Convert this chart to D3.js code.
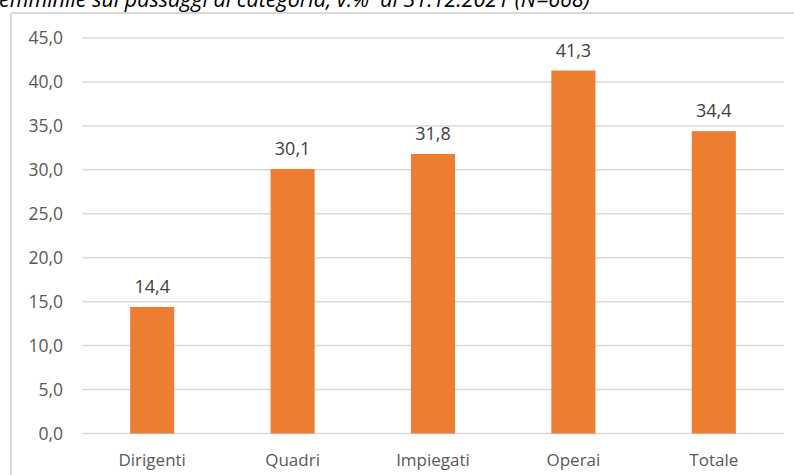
<!DOCTYPE html>
<html>
<head>
<meta charset="utf-8">
<script src="https://cdn.jsdelivr.net/npm/d3@7"></script>
<style>
  body { margin: 0; background: #fff; }
  svg { display: block; }
</style>
</head>
<body>
<div class="chart"></div>
<script>
/// Data
var categories = ["Dirigenti", "Quadri", "Impiegati", "Operai", "Totale"];
var values = [14.4, 30.1, 31.8, 41.3, 34.4];
var yTicks = [0, 5, 10, 15, 20, 25, 30, 35, 40, 45];
var titleText = "emminile sui passaggi di categoria, v.%  al 31.12.2021 (N=668)";

/// SVG dimensions
var svgWidth = 794;
var svgHeight = 475;

var plot = { left: 82, right: 784, top: 38, bottom: 433.5 };

var svg = d3.select(".chart")
    .append("svg")
    .attr("width", svgWidth)
    .attr("height", svgHeight);

var fmt = function(v) { return v.toFixed(1).replace(".", ","); };

/// Cut-off title at the top (as in the source)
svg.append("text")
    .attr("x", -1)
    .attr("y", 7)
    .attr("font-family", "Open Sans, sans-serif")
    .attr("font-style", "italic")
    .attr("font-size", 21.5)
    .attr("fill", "#000")
    .style("white-space", "pre")
    .text(titleText);

/// Chart frame (top and left edges visible)
svg.append("line")
    .attr("x1", 11).attr("x2", svgWidth)
    .attr("y1", 13).attr("y2", 13)
    .attr("stroke", "#d9d9d9").attr("stroke-width", 2);
svg.append("line")
    .attr("x1", 11).attr("x2", 11)
    .attr("y1", 13).attr("y2", svgHeight)
    .attr("stroke", "#d9d9d9").attr("stroke-width", 2);

/// Scales
var xScale = d3.scaleBand()
    .domain(categories)
    .range([plot.left, plot.right])
    .paddingInner(0.686)
    .paddingOuter(0.343);

var yScale = d3.scaleLinear()
    .domain([0, 45])
    .range([plot.bottom, plot.top]);

/// Gridlines
svg.append("g")
    .selectAll("line")
    .data(yTicks)
    .enter()
    .append("line")
    .attr("x1", plot.left)
    .attr("x2", plot.right)
    .attr("y1", d => yScale(d))
    .attr("y2", d => yScale(d))
    .attr("stroke", "#d9d9d9")
    .attr("stroke-width", 1.5);

/// Y axis labels
var yAxis = d3.axisLeft(yScale)
    .tickValues(yTicks)
    .tickSize(0)
    .tickPadding(0)
    .tickFormat(fmt);

var yAxisG = svg.append("g")
    .attr("transform", "translate(63,0)")
    .call(yAxis);
yAxisG.select(".domain").remove();
yAxisG.selectAll("text")
    .attr("font-family", "Open Sans, sans-serif")
    .attr("font-size", 17.5)
    .attr("fill", "#595959");

/// X axis labels
var xAxis = d3.axisBottom(xScale)
    .tickSize(0)
    .tickPadding(0);

var xAxisG = svg.append("g")
    .attr("transform", "translate(0,466)")
    .call(xAxis);
xAxisG.select(".domain").remove();
xAxisG.selectAll("text")
    .attr("dy", 0)
    .attr("font-family", "Open Sans, sans-serif")
    .attr("font-size", 17)
    .attr("fill", "#595959");

/// Bars
svg.append("g")
    .selectAll("rect")
    .data(values)
    .enter()
    .append("rect")
    .attr("x", (d, i) => xScale(categories[i]))
    .attr("y", d => yScale(d))
    .attr("width", xScale.bandwidth())
    .attr("height", d => yScale(0) - yScale(d))
    .attr("fill", "#ed7d31");

/// Value labels
svg.append("g")
    .selectAll("text")
    .data(values)
    .enter()
    .append("text")
    .attr("x", (d, i) => xScale(categories[i]) + xScale.bandwidth() / 2)
    .attr("y", d => yScale(d) - 14)
    .attr("text-anchor", "middle")
    .attr("font-family", "Open Sans, sans-serif")
    .attr("font-size", 18)
    .attr("fill", "#404040")
    .text(d => fmt(d));
</script>
</body>
</html>
